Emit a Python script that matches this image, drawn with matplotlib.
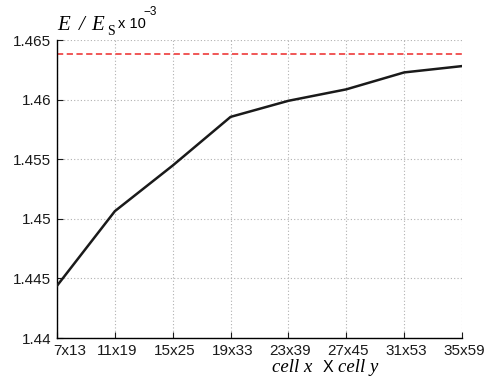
import matplotlib
matplotlib.use("Agg")
import matplotlib.pyplot as plt
import matplotlib.transforms as mtransforms
from matplotlib.ticker import FuncFormatter

# grid sizes and normalised energy (scaled by 1e-3)
grids = ["7x13", "11x19", "15x25", "19x33", "23x39", "27x45", "31x53", "35x59"]
energy = [1.44438, 1.45064, 1.45447, 1.45855, 1.45990, 1.46086, 1.46228, 1.46281]
reference = 1.46383

plt.rcParams["font.family"] = ["Liberation Sans", "DejaVu Sans"]

W, H = 495, 381
fig = plt.figure(figsize=(W / 100, H / 100), dpi=100)
ax = fig.add_axes([57 / W, 1 - 338 / H, 405 / W, 298 / H])

x = range(len(grids))
ax.axhline(reference, color="#f05656", lw=1.4, ls=(0, (3.2, 1.8)), zorder=2)
ax.plot(x, energy, color="#1a1a1a", lw=1.8, zorder=3)

ax.set_xlim(0, len(grids) - 1)
ax.set_ylim(1.44, 1.465)
ax.set_xticks(list(x))
ax.set_xticklabels(grids)
ax.set_yticks([1.44, 1.445, 1.45, 1.455, 1.46, 1.465])
ax.yaxis.set_major_formatter(FuncFormatter(lambda v, _: f"{v:g}"))

ax.grid(True, color="#b0b0b0", ls=(0, (1, 2)), lw=0.8)
ax.set_axisbelow(True)
for side in ("top", "right"):
    ax.spines[side].set_visible(False)
for side in ("left", "bottom"):
    ax.spines[side].set_linewidth(1.0)
ax.tick_params(direction="in", length=4, width=0.8, labelsize=11,
               colors="#1a1a1a")
ax.tick_params(axis="y", pad=4)
ax.tick_params(axis="x", pad=4)

# nudge the first x label clear of the y tick labels, like MATLAB does
labels = ax.get_xticklabels()
labels[0].set_transform(labels[0].get_transform()
                        + mtransforms.ScaledTranslation(13 / 100, 0, fig.dpi_scale_trans))
for lab in labels[1:]:
    lab.set_transform(lab.get_transform()
                      + mtransforms.ScaledTranslation(2 / 100, 0, fig.dpi_scale_trans))


def put(px, py, s, **kw):
    fig.text(px / W, 1 - py / H, s, ha="left", va="baseline", **kw)


serif_it = dict(family="Liberation Serif", style="italic")

# y label at the top of the axis
put(57.5, 30, "E", fontsize=15, **serif_it)
put(79, 30, "/", fontsize=15, **serif_it)
put(91, 30, "E", fontsize=15, **serif_it)
put(107.5, 35, "S", fontsize=10, family="Liberation Serif")
put(118, 28, "x 10", fontsize=10.5)
put(143.5, 15, "\u22123", fontsize=8.5)

# x label below the tick labels
put(272, 372, "cell x", fontsize=13.5, **serif_it)
put(322.5, 372, "X", fontsize=11.5)
put(338, 372, "cell y", fontsize=13.5, **serif_it)

fig.savefig("out.png", dpi=100)
